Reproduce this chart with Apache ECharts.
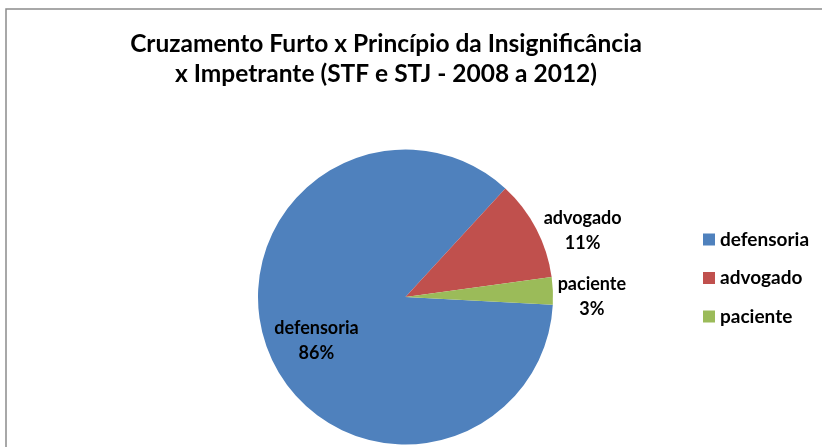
<!DOCTYPE html>
<html>
<head>
<meta charset="utf-8">
<script src="https://cdn.jsdelivr.net/npm/echarts@6/dist/echarts.min.js"></script>
<style>
  html, body { margin: 0; padding: 0; background: #fff; }
  #chart { width: 822px; height: 447px; }
</style>
</head>
<body>
<div id="chart"></div>
<script>
// dados
const categories = ['defensoria', 'advogado', 'paciente']
const values = [86, 11, 3]
const colors = ['#4F81BD', '#C0504D', '#9BBB59']
const titleText = 'Cruzamento Furto x Princípio da Insignificância\nx Impetrante (STF e STJ - 2008 a 2012)'

const font = 'Lato, "Open Sans", sans-serif'
// pequenos ajustes de posição dos rótulos (dx, dy)
const labelNudge = [[-18, 15], [-6, 4], [-14, 6]]

const chart = echarts.init(document.getElementById('chart'))

const pieData = categories.map((name, i) => {
  const item = { name: name, value: values[i], itemStyle: { color: colors[i] } }
  if (i === 0) {
    item.label = { position: 'inside' }
  }
  return item
})

chart.setOption({
  backgroundColor: '#fff',
  animation: false,
  graphic: [{
    type: 'rect',
    shape: { x: 6, y: 9, width: 900, height: 600 },
    style: { fill: 'none', stroke: '#8c8c8c', lineWidth: 1.5 }
  }],
  title: {
    text: titleText,
    left: 381,
    top: 24,
    textAlign: 'center',
    textStyle: {
      fontFamily: font,
      fontWeight: 'bold',
      fontSize: 24.5,
      lineHeight: 30,
      color: '#000'
    }
  },
  legend: {
    orient: 'vertical',
    left: 698,
    top: 225,
    itemWidth: 12,
    itemHeight: 12,
    itemGap: 19.5,
    icon: 'rect',
    data: categories,
    textStyle: {
      fontFamily: font,
      fontWeight: 'bold',
      fontSize: 19,
      lineHeight: 16,
      color: '#000'
    }
  },
  series: [{
    type: 'pie',
    center: [405.5, 297],
    radius: 147.5,
    startAngle: -3,
    clockwise: true,
    data: pieData,
    itemStyle: { borderWidth: 0 },
    labelLine: { show: false, length: 5, length2: 3 },
    labelLayout: p => ({ dx: labelNudge[p.dataIndex][0], dy: labelNudge[p.dataIndex][1] }),
    label: {
      show: true,
      position: 'outside',
      formatter: p => '{a|' + p.name + '}\n{a|' + Math.round(p.percent) + '%}',
      rich: {
        a: {
          fontFamily: font,
          fontWeight: 'bold',
          fontSize: 18,
          lineHeight: 25,
          color: '#000',
          width: 80,
          align: 'center'
        }
      }
    }
  }]
})
</script>
</body>
</html>
